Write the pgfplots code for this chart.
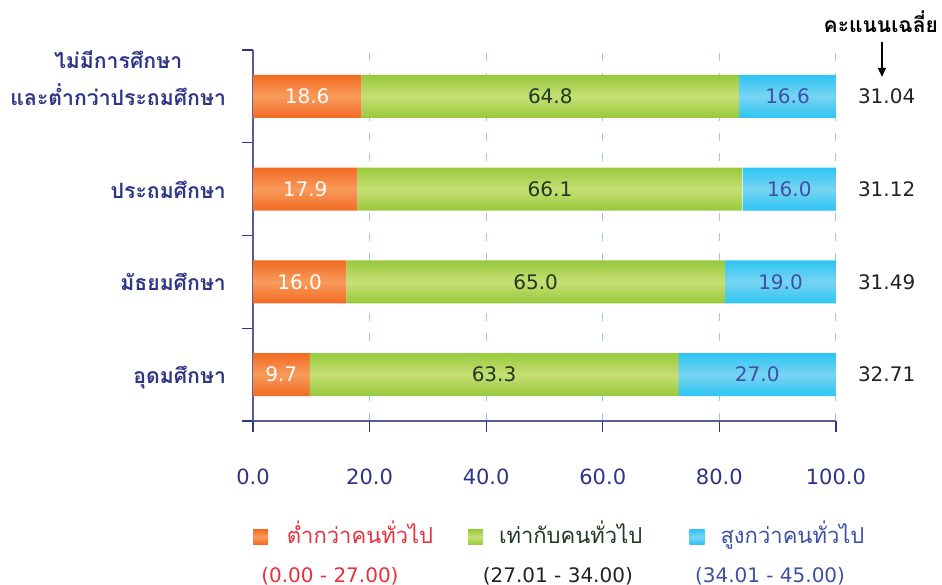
\documentclass[border=0pt]{standalone}
\usepackage{fontspec}
\setmainfont{DejaVu Sans}
\newfontfamily\thaifont[Script=Thai]{Loma}
\usepackage{pgfplots}
\pgfplotsset{compat=1.18}
\usetikzlibrary{arrows.meta}

\definecolor{navy}{HTML}{2E3586}
\definecolor{axisline}{HTML}{5A5A95}
\definecolor{gridblue}{HTML}{9DC9EA}
\definecolor{orangeD}{HTML}{F26A21}
\definecolor{orangeL}{HTML}{F89B5C}
\definecolor{greenD}{HTML}{98C93C}
\definecolor{greenL}{HTML}{C6DF74}
\definecolor{blueD}{HTML}{2DC4F3}
\definecolor{blueL}{HTML}{78D4F2}
\definecolor{lowred}{HTML}{E6303C}
\definecolor{midgreen}{HTML}{1F3A20}
\definecolor{highblue}{HTML}{3D50A5}
\definecolor{avgtext}{HTML}{222222}

% one bar plot is one path, so the shading repeats once per bar (4 bars, 21.5pt wide, 46.375pt apart)
\newcommand\barshading[3]{%
  \pgfdeclareverticalshading{#1}{100bp}{color(0bp)=(#2); color(25bp)=(#2); color(28.35bp)=(#3); color(31.69bp)=(#2);
    color(39.44bp)=(#2); color(42.78bp)=(#3); color(46.13bp)=(#2);
    color(53.87bp)=(#2); color(57.22bp)=(#3); color(60.56bp)=(#2);
    color(68.31bp)=(#2); color(71.65bp)=(#3); color(75bp)=(#2); color(100bp)=(#2)}}
\barshading{barsO}{orangeD}{orangeL}
\barshading{barsG}{greenD}{greenL}
\barshading{barsB}{blueD}{blueL}

\begin{document}
\begin{tikzpicture}
\begin{axis}[
  scale only axis,
  width=291.5pt, height=185.5pt,
  xbar stacked,
  bar width=21.5pt,
  xmin=0, xmax=100,
  ymin=-0.5, ymax=3.5,
  clip=false,
  axis x line*=bottom,
  axis y line*=left,
  axis line style={draw=axisline, line width=0.6pt},
  tick align=outside,
  major tick length=5.5pt,
  tick style={draw=navy, line width=0.6pt},
  xtick={0,20,40,60,80,100},
  scaled x ticks=false,
  xticklabel style={text=navy, font=\fontsize{10.5}{12}\selectfont, yshift=-15pt,
    /pgf/number format/fixed, /pgf/number format/fixed zerofill, /pgf/number format/precision=1},
  /pgf/number format/assume math mode=true,
  ytick={-0.5,0.5,1.5,2.5,3.5},
  yticklabels={},
  extra y ticks={0,1,2,3},
  extra y tick labels={อุดมศึกษา, มัธยมศึกษา, ประถมศึกษา,
    {\begin{tabular}[b]{@{}c@{}}\smash{ไม่มีการศึกษา}\\[5.5pt]\smash{และต่ำกว่าประถมศึกษา}\end{tabular}}},
  extra y tick style={major tick length=0pt,
    yticklabel style={anchor=base east, yshift=-4.5pt, xshift=-10pt, text=navy,
      font=\thaifont\bfseries\fontsize{10.6}{13}\selectfont}},
  xmajorgrids,
  major grid style={draw=gridblue, dash pattern=on 4pt off 6pt, line width=0.5pt},
  visualization depends on=rawx \as \rawx,
  nodes near coords={\pgfmathprintnumber[fixed,fixed zerofill,precision=1]{\rawx}},
  every node near coord/.append style={anchor=center, font=\fontsize{10}{12}\selectfont},
]
\addplot[draw=none, shade, shading=barsO,
  every node near coord/.append style={text=white}]
  coordinates {(9.7,0) (16.0,1) (17.9,2) (18.6,3)};
\addplot[draw=none, shade, shading=barsG,
  every node near coord/.append style={text=midgreen}]
  coordinates {(63.3,0) (65.0,1) (66.1,2) (64.8,3)};
\addplot[draw=none, shade, shading=barsB,
  every node near coord/.append style={text=highblue}]
  coordinates {(27.0,0) (19.0,1) (16.0,2) (16.6,3)};

% average scores
\node[text=avgtext, font=\fontsize{10}{12}\selectfont] at (axis cs:108.7,3) {31.04};
\node[text=avgtext, font=\fontsize{10}{12}\selectfont] at (axis cs:108.7,2) {31.12};
\node[text=avgtext, font=\fontsize{10}{12}\selectfont] at (axis cs:108.7,1) {31.49};
\node[text=avgtext, font=\fontsize{10}{12}\selectfont] at (axis cs:108.7,0) {32.71};
\node[text=black, font=\thaifont\bfseries\fontsize{10.5}{13}\selectfont] at (axis cs:107.7,3.8) {คะแนนเฉลี่ย};
\draw[-{Triangle[length=4.5pt,width=4pt]}, line width=0.7pt] (axis cs:107.9,3.59) -- (axis cs:107.9,3.21);

% legend
\node[minimum size=7.5pt, inner sep=0pt, top color=orangeD, bottom color=orangeD, middle color=orangeL] at (axis cs:1.3,-1.75) {};
\node[anchor=base west, text=lowred, font=\thaifont\fontsize{11}{14}\selectfont] at (axis cs:4.6,-1.826) {ต่ำกว่าคนทั่วไป};
\node[anchor=base, text=lowred, font=\fontsize{10}{12}\selectfont] at (axis cs:13.2,-2.24) {(0.00 - 27.00)};
\node[minimum size=7.5pt, inner sep=0pt, top color=greenD, bottom color=greenD, middle color=greenL] at (axis cs:38.2,-1.75) {};
\node[anchor=base west, text=midgreen, font=\thaifont\fontsize{11}{14}\selectfont] at (axis cs:41.0,-1.826) {เท่ากับคนทั่วไป};
\node[anchor=base, text=avgtext, font=\fontsize{10}{12}\selectfont] at (axis cs:52.3,-2.24) {(27.01 - 34.00)};
\node[minimum size=7.5pt, inner sep=0pt, top color=blueD, bottom color=blueD, middle color=blueL] at (axis cs:76.2,-1.75) {};
\node[anchor=base west, text=highblue, font=\thaifont\fontsize{11}{14}\selectfont] at (axis cs:79.0,-1.826) {สูงกว่าคนทั่วไป};
\node[anchor=base, text=highblue, font=\fontsize{10}{12}\selectfont] at (axis cs:88.7,-2.24) {(34.01 - 45.00)};

\coordinate (bbA) at (axis cs:-43.4,4.039);
\coordinate (bbB) at (axis cs:118.2,-2.268);
\end{axis}
\pgfresetboundingbox
\useasboundingbox (bbA) rectangle (bbB);
\end{tikzpicture}
\end{document}
